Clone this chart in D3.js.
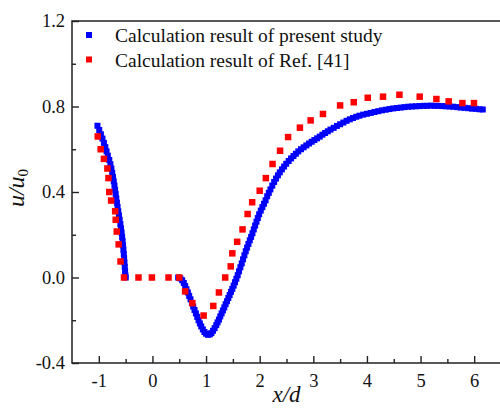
<!DOCTYPE html>
<html>
<head>
<meta charset="utf-8">
<script src="https://cdn.jsdelivr.net/npm/d3@7"></script>
<style>
  html, body { margin: 0; padding: 0; background: #fff; }
  svg { display: block; }
  text { font-family: "Liberation Serif", "Times New Roman", serif; fill: #111; }
</style>
</head>
<body>
<svg id="chart" width="500" height="408"></svg>
<script>
// Streamwise velocity u/u0 along the centreline, present study (upstream and wake parts)
const presentUpstream = [
  [-1.025, 0.71], [-0.992, 0.69], [-0.961, 0.67], [-0.932, 0.65], [-0.905, 0.63],
  [-0.879, 0.61], [-0.855, 0.59], [-0.832, 0.57], [-0.805, 0.55], [-0.784, 0.53],
  [-0.766, 0.51], [-0.750, 0.49], [-0.735, 0.47], [-0.721, 0.45], [-0.708, 0.43],
  [-0.696, 0.41], [-0.685, 0.39], [-0.674, 0.37], [-0.662, 0.35], [-0.650, 0.33],
  [-0.637, 0.31], [-0.624, 0.29], [-0.611, 0.27], [-0.598, 0.25], [-0.586, 0.23],
  [-0.575, 0.21], [-0.565, 0.19], [-0.556, 0.17], [-0.548, 0.15], [-0.541, 0.13],
  [-0.534, 0.11], [-0.528, 0.09], [-0.522, 0.07], [-0.516, 0.05], [-0.510, 0.03],
  [-0.504, 0.01], [-0.498, 0.00]
];
const presentWake = [
  [0.48, 0.000], [0.52, -0.004], [0.555, -0.013], [0.585, -0.026], [0.61, -0.040],
  [0.635, -0.055], [0.66, -0.070], [0.685, -0.086], [0.71, -0.102], [0.735, -0.119],
  [0.76, -0.136], [0.785, -0.152], [0.81, -0.168], [0.835, -0.184], [0.86, -0.200],
  [0.885, -0.215], [0.91, -0.229], [0.94, -0.243], [0.97, -0.255], [1.00, -0.263],
  [1.035, -0.268], [1.07, -0.266], [1.10, -0.260], [1.13, -0.249], [1.16, -0.237],
  [1.19, -0.223], [1.215, -0.210], [1.24, -0.197], [1.265, -0.182], [1.29, -0.168],
  [1.315, -0.154], [1.34, -0.140], [1.365, -0.125], [1.39, -0.111], [1.415, -0.096],
  [1.44, -0.082], [1.465, -0.067], [1.49, -0.053], [1.515, -0.038], [1.54, -0.022],
  [1.565, -0.006], [1.59, 0.011], [1.615, 0.029], [1.64, 0.048], [1.665, 0.066],
  [1.69, 0.085], [1.715, 0.104], [1.74, 0.123], [1.765, 0.140], [1.79, 0.157],
  [1.815, 0.174], [1.84, 0.190], [1.865, 0.207], [1.89, 0.225], [1.915, 0.243],
  [1.94, 0.261], [1.965, 0.278], [1.99, 0.296], [2.02, 0.313], [2.05, 0.329],
  [2.08, 0.345], [2.11, 0.361], [2.14, 0.380], [2.17, 0.396], [2.20, 0.412],
  [2.235, 0.430], [2.27, 0.447], [2.305, 0.463], [2.34, 0.478], [2.375, 0.492],
  [2.415, 0.506], [2.455, 0.519], [2.495, 0.532], [2.54, 0.545], [2.585, 0.557],
  [2.63, 0.568], [2.675, 0.579], [2.72, 0.590], [2.77, 0.600], [2.82, 0.609],
  [2.87, 0.618], [2.92, 0.627], [2.97, 0.635], [3.02, 0.643], [3.07, 0.651],
  [3.12, 0.659], [3.17, 0.668], [3.22, 0.676], [3.27, 0.684], [3.32, 0.692],
  [3.38, 0.700], [3.44, 0.709], [3.50, 0.717], [3.56, 0.725], [3.62, 0.733],
  [3.68, 0.740], [3.74, 0.746], [3.80, 0.752], [3.86, 0.757], [3.93, 0.762],
  [4.00, 0.766], [4.07, 0.770], [4.14, 0.774], [4.21, 0.778], [4.28, 0.782],
  [4.35, 0.785], [4.42, 0.788], [4.49, 0.791], [4.56, 0.793], [4.63, 0.795],
  [4.70, 0.797], [4.77, 0.799], [4.84, 0.800], [4.91, 0.801], [4.98, 0.802],
  [5.05, 0.803], [5.12, 0.803], [5.19, 0.804], [5.26, 0.803], [5.33, 0.803],
  [5.40, 0.802], [5.47, 0.801], [5.54, 0.800], [5.61, 0.799], [5.68, 0.797],
  [5.75, 0.795], [5.82, 0.794], [5.89, 0.792], [5.96, 0.790], [6.03, 0.789],
  [6.10, 0.787], [6.16, 0.786]
];
// Reference solution, Ref. [41]
const ref41 = [
  [-1.02, 0.66], [-0.965, 0.60], [-0.905, 0.555], [-0.84, 0.51], [-0.82, 0.465],
  [-0.805, 0.40], [-0.77, 0.36], [-0.695, 0.31], [-0.685, 0.27], [-0.665, 0.215],
  [-0.63, 0.155], [-0.595, 0.075], [-0.53, 0.0], [-0.26, 0.0], [-0.01, 0.0],
  [0.30, 0.0], [0.50, 0.0], [0.61, -0.065], [0.745, -0.12], [0.955, -0.178],
  [1.135, -0.133], [1.24, -0.07], [1.357, 0.0], [1.46, 0.052], [1.49, 0.113],
  [1.58, 0.167], [1.68, 0.225], [1.775, 0.297], [1.86, 0.352], [2.0, 0.406],
  [2.115, 0.465], [2.24, 0.531], [2.38, 0.593], [2.53, 0.657], [2.75, 0.701],
  [2.95, 0.735], [3.18, 0.765], [3.50, 0.805], [3.754, 0.82], [4.015, 0.841],
  [4.30, 0.846], [4.606, 0.855], [4.984, 0.846], [5.295, 0.835], [5.524, 0.824],
  [5.78, 0.816], [5.996, 0.816]
];

const xMajor = [-1, 0, 1, 2, 3, 4, 5, 6];
const xMajorLabels = ["-1", "0", "1", "2", "3", "4", "5", "6"];
const xMinor = [-0.5, 0.5, 1.5, 2.5, 3.5, 4.5, 5.5];
const yMajor = [-0.4, 0.0, 0.4, 0.8, 1.2];
const yMajorLabels = ["-0.4", "0.0", "0.4", "0.8", "1.2"];
const yMinor = [-0.2, 0.2, 0.6, 1.0];
const legendLabels = ["Calculation result of present study", "Calculation result of Ref. [41]"];
const seriesColors = ["#0000ff", "#ff0000"];

const svg = d3.select("#chart");
const plotLeft = 72, plotRight = 501, plotTop = 21, plotBottom = 363;

const x = d3.scaleLinear().domain([-1.5, 6.5]).range([plotLeft, plotRight]);
const y = d3.scaleLinear().domain([-0.4, 1.2]).range([plotBottom, plotTop]);

const axisColor = "#222";

// markers: present study first, reference drawn over it
function drawSquares(data, color, size) {
  svg.append("g").selectAll("rect").data(data).join("rect")
    .attr("x", d => x(d[0]) - size / 2)
    .attr("y", d => y(d[1]) - size / 2)
    .attr("width", size).attr("height", size)
    .attr("fill", color);
}
drawSquares(presentUpstream, seriesColors[0], 6);
drawSquares(presentWake, seriesColors[0], 6);
drawSquares(ref41, seriesColors[1], 6.5);

// axes
svg.append("g").attr("transform", `translate(0,${plotBottom})`)
  .call(d3.axisBottom(x).tickValues(xMajor).tickSize(-7).tickPadding(11)
    .tickFormat((d, i) => xMajorLabels[i]));
svg.append("g").attr("transform", `translate(0,${plotBottom})`)
  .call(d3.axisBottom(x).tickValues(xMinor).tickSize(-4).tickFormat(""));
svg.append("g").attr("transform", `translate(${plotLeft},0)`)
  .call(d3.axisLeft(y).tickValues(yMajor).tickSize(-7).tickPadding(7)
    .tickFormat((d, i) => yMajorLabels[i]));
svg.append("g").attr("transform", `translate(${plotLeft},0)`)
  .call(d3.axisLeft(y).tickValues(yMinor).tickSize(-4).tickFormat(""));

svg.selectAll(".domain").remove();
svg.selectAll(".tick line").attr("stroke", axisColor).attr("stroke-width", 1.4);
svg.selectAll(".tick text")
  .style("font-family", '"Liberation Serif", "Times New Roman", serif')
  .style("font-size", "18.5px").attr("fill", "#111");

// frame
svg.append("path")
  .attr("d", `M${plotRight},${plotTop}H${plotLeft}V${plotBottom}H${plotRight}`)
  .attr("fill", "none").attr("stroke", axisColor).attr("stroke-width", 1.5);

// axis titles
svg.append("text")
  .attr("x", (plotLeft + plotRight) / 2).attr("y", 402)
  .attr("text-anchor", "middle")
  .style("font-size", "23px").style("font-style", "italic")
  .text("x/d");

const yTitle = svg.append("text")
  .attr("transform", `translate(24,188) rotate(-90)`)
  .attr("text-anchor", "middle")
  .style("font-size", "24px").style("font-style", "italic");
yTitle.append("tspan").text("u/u");
yTitle.append("tspan").attr("dy", 4).style("font-size", "15px").style("font-style", "normal").text("0");

// legend
const legend = svg.append("g");
legendLabels.forEach((label, i) => {
  const cy = 35 + i * 24.5;
  legend.append("rect")
    .attr("x", 86).attr("y", cy - 3).attr("width", 6).attr("height", 6)
    .attr("fill", seriesColors[i]);
  legend.append("text")
    .attr("x", 115).attr("y", cy + 7)
    .style("font-size", "19.5px")
    .text(label);
});
</script>
</body>
</html>
